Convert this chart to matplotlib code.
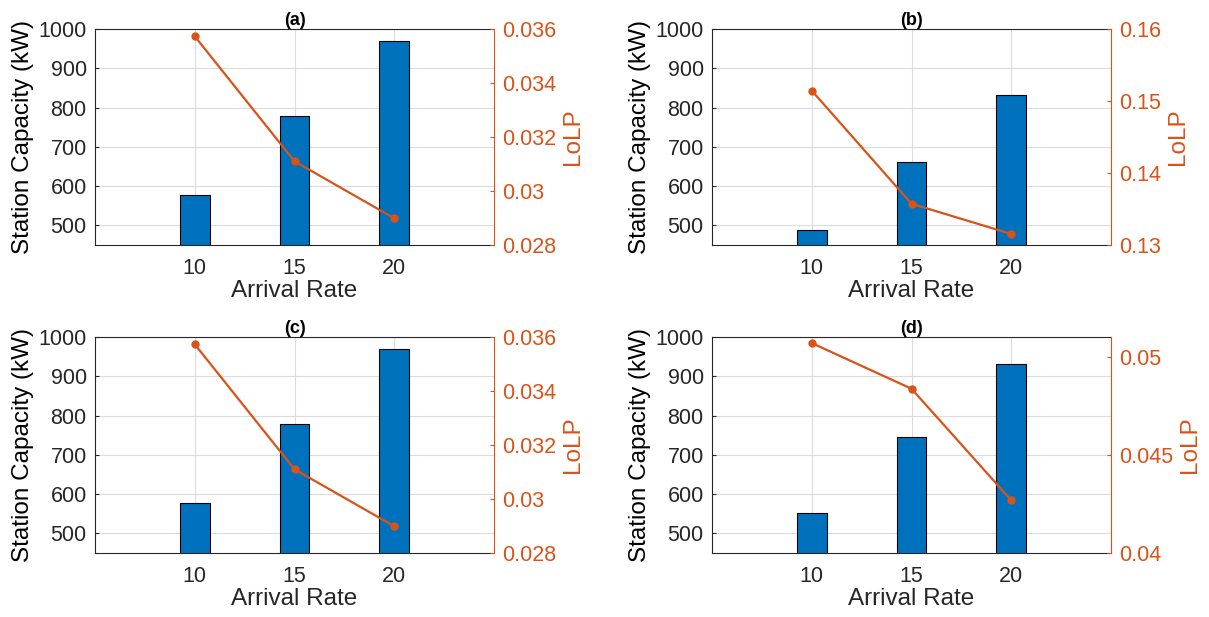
import matplotlib.pyplot as plt

plt.rcParams['font.family'] = ['Liberation Sans', 'DejaVu Sans']

rates = [10, 15, 20]
cap_a = [578, 778, 969]
cap_b = [488, 662, 831]
cap_c = [578, 778, 969]
cap_d = [553, 746, 930]
lolp_a = [0.03573, 0.0311, 0.02899]
lolp_b = [0.15144, 0.13573, 0.13153]
lolp_c = [0.03573, 0.0311, 0.02899]
lolp_d = [0.05071, 0.04838, 0.04269]
titles = ['(a)', '(b)', '(c)', '(d)']
lolp_lims = [(0.028, 0.036), (0.13, 0.16), (0.028, 0.036), (0.04, 0.05102)]
lolp_ticks = [[0.028, 0.03, 0.032, 0.034, 0.036],
              [0.13, 0.14, 0.15, 0.16],
              [0.028, 0.03, 0.032, 0.034, 0.036],
              [0.04, 0.045, 0.05]]
lolp_labels = [['0.028', '0.03', '0.032', '0.034', '0.036'],
               ['0.13', '0.14', '0.15', '0.16'],
               ['0.028', '0.03', '0.032', '0.034', '0.036'],
               ['0.04', '0.045', '0.05']]

blue = '#0072BD'
orange = '#D95319'
dark = '#262626'

W, H = 1209, 617
fig = plt.figure(figsize=(W / 100, H / 100), dpi=100)

# axes boxes in pixels: left, right, top, bottom
boxes = [(95, 494, 29, 245), (712, 1111, 29, 245),
         (95, 494, 337, 553), (712, 1111, 337, 553)]
caps = [cap_a, cap_b, cap_c, cap_d]
lolps = [lolp_a, lolp_b, lolp_c, lolp_d]

for i in range(4):
    l, r, t, b = boxes[i]
    ax = fig.add_axes([l / W, 1 - b / H, (r - l) / W, (b - t) / H])
    ax.bar(rates, caps[i], width=1.5, color=blue, edgecolor='black', linewidth=0.8, zorder=2)
    ax.set_xlim(5, 25)
    ax.set_ylim(450, 1000)
    ax.set_xticks(rates)
    ax.set_yticks([500, 600, 700, 800, 900, 1000])
    ax.grid(True, color='#dcdcdc', linewidth=0.8, zorder=0)
    ax.set_axisbelow(True)
    ax.tick_params(direction='in', labelsize=15.5, colors=dark, length=3, top=False)
    ax.tick_params(axis='x', pad=9)
    ax.tick_params(axis='y', pad=6)
    ax.set_xlabel('Arrival Rate', fontsize=17.5, color=dark, labelpad=1)
    ax.set_ylabel('Station Capacity (kW)', fontsize=17.5, color='black', labelpad=3)
    ax.set_title(titles[i], fontsize=13, fontweight='bold', pad=3)
    for s in ['left', 'bottom', 'top']:
        ax.spines[s].set_color(dark)
    ax.spines['right'].set_visible(False)

    ax2 = ax.twinx()
    ax2.plot(rates, lolps[i], color=orange, linewidth=1.6, marker='o', markersize=5)
    ax2.set_ylim(*lolp_lims[i])
    ax2.set_yticks(lolp_ticks[i])
    ax2.set_yticklabels(lolp_labels[i])
    ax2.tick_params(direction='in', labelsize=15.5, colors=orange, length=3, pad=6)
    ax2.set_ylabel('LoLP', fontsize=17.5, color=orange, labelpad=4)
    ax2.spines['right'].set_color(orange)
    for s in ['left', 'bottom', 'top']:
        ax2.spines[s].set_visible(False)

fig.savefig('out.png', dpi=100)
